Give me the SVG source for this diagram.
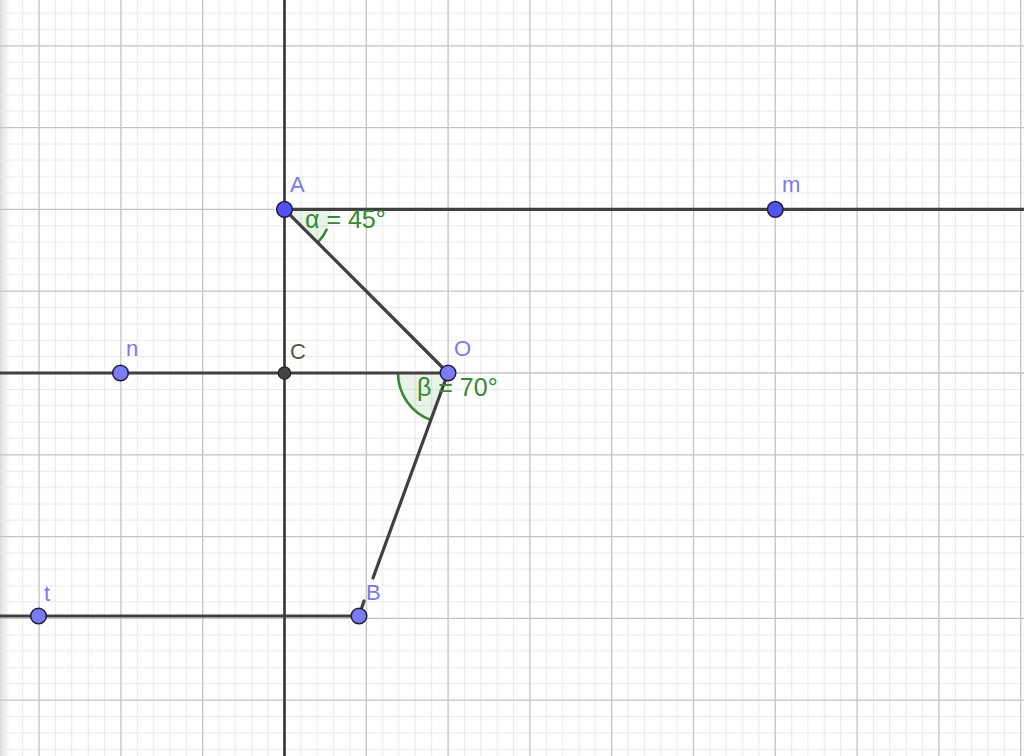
<svg xmlns="http://www.w3.org/2000/svg" width="1024" height="756" viewBox="0 0 1024 756">
  <style>
    .minor { stroke: #e9e9e9; stroke-width: 1; }
    .major { stroke: #c4c4c4; stroke-width: 1.3; }
    .ln { stroke: #404040; stroke-width: 3.2; fill: none; stroke-linecap: round; }
    .axis { stroke: #333333; stroke-width: 2.6; }
    .sector { fill: #2e8b2e; fill-opacity: 0.1; stroke: none; }
    .arc { fill: none; stroke: #338a33; stroke-width: 2.6; }
    .pt { stroke: #1e1e3c; stroke-width: 1.5; }
    .ptA { fill: #5252f2; }
    .ptB { fill: #7b7bf3; }
    .lbl { font-family: "Liberation Sans", Arial, sans-serif; font-size: 22px; fill: #7a7aee; }
    .ang { font-family: "Liberation Sans", Arial, sans-serif; font-size: 25px; fill: #338a33; }
  </style>
  <defs>
    <linearGradient id="edge" x1="0" y1="0" x2="1" y2="0">
      <stop offset="0" stop-color="#d8d8d8"/>
      <stop offset="1" stop-color="#ffffff" stop-opacity="0"/>
    </linearGradient>
    <pattern id="minorGrid" patternUnits="userSpaceOnUse" x="39.1" y="45.8" width="81.8" height="81.8">
      <path class="minor" d="M16.36,0V81.8M32.72,0V81.8M49.08,0V81.8M65.44,0V81.8M0,16.36H81.8M0,32.72H81.8M0,49.08H81.8M0,65.44H81.8"/>
    </pattern>
  </defs>

  <rect x="0" y="0" width="1024" height="756" fill="#ffffff"/>
  <rect x="0" y="0" width="12" height="756" fill="url(#edge)"/>

  <g id="grid">
    <rect x="0" y="0" width="1024" height="756" fill="url(#minorGrid)"/>
    <path class="major" d="M39.1,0V756M120.9,0V756M202.7,0V756M366.3,0V756M448.1,0V756M529.9,0V756M611.7,0V756M693.5,0V756M775.3,0V756M857.1,0V756M938.9,0V756M1020.7,0V756"/>
    <path class="major" d="M0,45.8H1024M0,127.6H1024M0,209.4H1024M0,291.2H1024M0,373H1024M0,454.8H1024M0,536.6H1024M0,618.4H1024M0,700.2H1024"/>
    <line class="axis" x1="284.5" y1="0" x2="284.5" y2="756"/>
  </g>

  <g id="angles">
    <g id="alpha">
      <path class="sector" d="M284.5,209.4 L331.5,209.4 A47,47 0 0,1 317.7,242.6 Z"/>
      <path class="arc" d="M327.1,228.8 A47,47 0 0,1 317.7,242.6"/>
    </g>
    <g id="beta">
      <path class="sector" d="M448,373 L398,373 A50,50 0 0,0 430.9,420 Z"/>
      <path class="arc" d="M398,373 A50,50 0 0,0 430.9,420"/>
    </g>
  </g>

  <g id="connectors">
    <line class="ln" x1="284.5" y1="209.4" x2="1024" y2="209.4"/>
    <line class="ln" x1="0" y1="373" x2="448" y2="373"/>
    <line class="ln" x1="0" y1="616" x2="359" y2="616"/>
    <line class="ln" x1="284.5" y1="209.4" x2="448" y2="373"/>
    <line class="ln" x1="448" y1="373" x2="373" y2="578"/>
    <line class="ln" x1="364" y1="601" x2="359" y2="616"/>
  </g>

  <g id="A"><circle class="pt ptA" cx="284.5" cy="209.4" r="7.8"/><text class="lbl" x="290" y="192">A</text></g>
  <g id="m"><circle class="pt ptA" cx="775.3" cy="209.4" r="7.8"/><text class="lbl" x="782" y="192">m</text></g>
  <g id="n"><circle class="pt ptB" cx="120.5" cy="373" r="7.8"/><text class="lbl" x="126" y="356">n</text></g>
  <g id="C"><circle cx="284.5" cy="373" r="6.2" fill="#444444" stroke="#222222" stroke-width="1.2"/><text class="lbl" x="290" y="359" style="fill:#555555">C</text></g>
  <g id="O"><circle class="pt ptB" cx="448" cy="373" r="7.8"/><text class="lbl" x="454" y="356">O</text></g>
  <g id="t"><circle class="pt ptB" cx="38.5" cy="616" r="7.8"/><text class="lbl" x="44" y="601">t</text></g>
  <g id="B"><circle class="pt ptB" cx="359" cy="616" r="7.8"/><text class="lbl" x="366" y="600">B</text></g>

  <g id="angle-labels">
    <text class="ang" x="305" y="228">α = 45°</text>
    <text class="ang" x="417" y="396">β = 70°</text>
  </g>
</svg>
